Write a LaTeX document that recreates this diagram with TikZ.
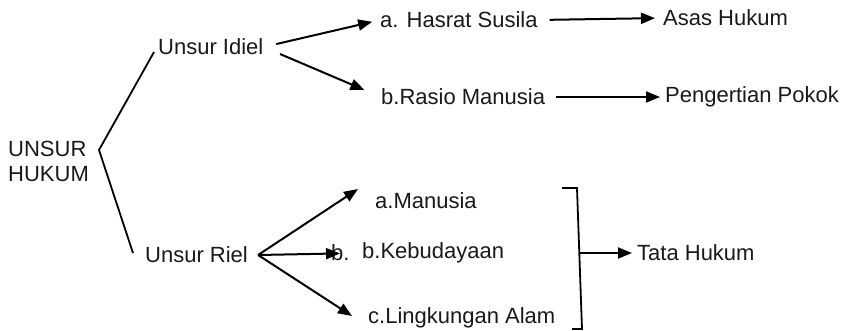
\documentclass[tikz,border=0pt]{standalone}
\usepackage{fontspec}
\setmainfont{Liberation Sans}
\usetikzlibrary{arrows.meta}

\tikzset{
    lbl/.style={anchor=west, inner sep=0pt, text=black!90, font=\fontsize{22}{25}\selectfont},
    arr/.style={-{Triangle[length=14pt, width=11pt]}, line width=2pt},
    ln/.style={line width=1.8pt}
}

\begin{document}
\begin{tikzpicture}[x=1pt, y=-1pt]
    \useasboundingbox (0,0) rectangle (847,330);

    % Left side
    \node[lbl, align=left] (uh) at (8,161) {UNSUR\\HUKUM};
    \node[lbl] (idiel) at (158,47) {Unsur Idiel};
    \node[lbl] (riel) at (145,255) {Unsur Riel};
    \coordinate (vtx) at (99,150);
    \draw[ln] ([xshift=-4pt, yshift=-5pt]idiel.west) -- (vtx) -- ([xshift=-12pt, yshift=2pt]riel.west);

    % Unsur Idiel
    \node[lbl] (hasrat) at (380,20) {a. Hasrat Susila};
    \node[lbl] (rasio) at (381,97) {b.Rasio Manusia};
    \node[lbl] (asas) at (663,18) {Asas Hukum};
    \node[lbl] (pokok) at (665,97) {Pengertian Pokok};
    \draw[arr, shorten <=13pt, shorten >=8pt] (idiel.east) -- (hasrat.west);
    \draw[arr, shorten <=18pt, shorten >=18pt] (idiel.east) -- (rasio.west);
    \draw[arr, shorten <=12pt, shorten >=8pt] (hasrat.east) -- (asas.west);
    \draw[arr, shorten <=11pt, shorten >=5pt] (rasio.east) -- (pokok.west);

    % Unsur Riel
    \node[lbl] (manusia) at (375,201) {a.Manusia};
    \node[lbl] (bghost) at (331,253) {b.};
    \node[lbl] (budaya) at (362,253) {b.Kebudayaan};
    \node[lbl] (alam) at (368,318) {c.Lingkungan Alam};
    \coordinate (fork) at ([xshift=10pt]riel.east);
    \draw[arr] (fork) -- ([xshift=-17pt, yshift=12pt]manusia.west);
    \draw[arr, shorten >=22pt] (fork) -- (budaya.west);
    \draw[arr] (fork) -- ([xshift=-16pt, yshift=2pt]alam.west);

    % Tata Hukum
    \node[lbl] (tata) at (637,253) {Tata Hukum};
    \draw[ln] (562,188) -- (577,188) -- (582,329) -- (572,329);
    \coordinate (brmid) at (579.5,253);
    \draw[arr, shorten >=5pt] (brmid) -- (tata.west);
\end{tikzpicture}
\end{document}
